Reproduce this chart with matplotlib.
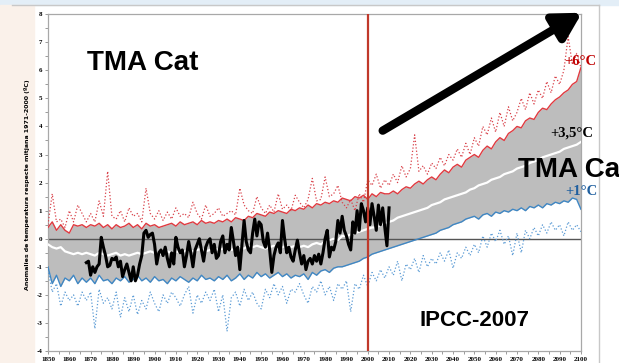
import numpy as np
import matplotlib
matplotlib.use("Agg")
import matplotlib.pyplot as plt
from matplotlib.lines import Line2D
from matplotlib.patches import Rectangle

# Projected temperature anomalies for Catalonia (2-year steps, 1850-2100)
model_years = np.arange(1850, 2101, 2)

upper_extreme = [
    0.5, 1.6, 0.6, 0.7, 0.4, 1.0, 0.6, 1.2, 0.9, 0.6,
    0.9, 0.6, 1.35, 0.8, 2.4, 0.8, 0.7, 1.0, 0.6, 1.1,
    0.8, 0.9, 0.6, 1.8, 0.9, 0.7, 1.0, 0.65, 0.95, 0.7,
    1.1, 0.8, 0.9, 0.75, 1.3, 0.9, 0.7, 1.2, 0.8, 0.9,
    1.1, 0.8, 0.9, 1.0, 0.85, 1.8, 1.2, 1.0, 0.9, 1.5,
    1.1, 0.9, 1.2, 0.95, 1.6, 1.05, 1.2, 1.0, 1.55, 1.3,
    1.1, 1.4, 2.15, 1.35, 1.4, 2.2, 1.5, 1.6, 1.9, 1.3,
    1.1, 1.4, 1.0, 1.6, 1.3, 2.1, 1.9, 2.3, 1.8, 2.1,
    1.9, 2.3, 2.0, 2.6, 2.2, 2.5, 3.7, 2.4, 2.6, 2.3,
    2.7, 2.5, 2.9, 2.6, 3.0, 2.8, 3.2, 2.9, 3.4, 3.0,
    3.6, 3.3, 4.0, 3.7, 4.3, 3.8, 4.5, 4.0, 4.7, 4.2,
    4.5, 5.0, 4.6, 5.2, 4.8, 5.3, 5.0, 5.6, 5.2, 5.8,
    5.5, 6.0, 7.2, 6.2, 6.6, 6.1,
]

upper_band = [
    0.4, 0.6, 0.3, 0.5, 0.3, 0.2, 0.5, 0.45, 0.5, 0.4,
    0.5, 0.45, 0.55, 0.4, 0.5, 0.35, 0.5, 0.4, 0.45, 0.55,
    0.4, 0.5, 0.35, 0.55, 0.45, 0.5, 0.4, 0.45, 0.5, 0.55,
    0.45, 0.6, 0.5, 0.55, 0.6, 0.5, 0.65, 0.55, 0.6, 0.55,
    0.65, 0.6, 0.7, 0.6, 0.75, 0.7, 0.65, 0.8, 0.75, 0.9,
    0.85, 0.8, 0.95, 0.9, 1.0, 0.95, 0.9, 1.05, 1.0, 1.1,
    1.05, 1.2, 1.1, 1.25, 1.2, 1.3, 1.25, 1.35, 1.3, 1.45,
    1.4, 1.35, 1.5, 1.45, 1.55, 1.4, 1.6, 1.5, 1.65, 1.6,
    1.6, 1.7, 1.6, 1.75, 1.85, 1.8, 1.95, 2.05, 1.95, 2.1,
    2.2, 2.1, 2.3, 2.45, 2.35, 2.55, 2.65, 2.55, 2.8, 2.9,
    3.0, 2.9, 3.15, 3.3, 3.2, 3.45, 3.6, 3.5, 3.75, 3.85,
    4.0, 3.95, 4.2, 4.3, 4.25, 4.5, 4.65, 4.6, 4.8, 4.95,
    5.05, 5.2, 5.3, 5.5, 5.6, 6.1,
]

mean_proj = [
    -0.2, -0.3, -0.35, -0.3, -0.45, -0.5, -0.55, -0.5, -0.55, -0.5,
    -0.55, -0.6, -0.5, -0.55, -0.6, -0.55, -0.5, -0.6, -0.55, -0.6,
    -0.55, -0.5, -0.55, -0.5, -0.45, -0.5, -0.55, -0.5, -0.45, -0.5,
    -0.45, -0.5, -0.45, -0.4, -0.45, -0.4, -0.35, -0.45, -0.4, -0.35,
    -0.4, -0.35, -0.3, -0.4, -0.35, -0.3, -0.35, -0.25, -0.3, -0.25,
    -0.3, -0.35, -0.3, -0.25, -0.35, -0.3, -0.25, -0.3, -0.25, -0.3,
    -0.25, -0.3, -0.2, -0.15, -0.2, -0.1, -0.05, 0.0, -0.05, 0.1,
    0.1, 0.15, 0.2, 0.25, 0.3, 0.35, 0.4, 0.4, 0.5, 0.55,
    0.6, 0.65, 0.75, 0.8, 0.85, 0.9, 0.95, 1.0, 1.05, 1.1,
    1.2, 1.25, 1.3, 1.4, 1.45, 1.5, 1.55, 1.6, 1.65, 1.75,
    1.8, 1.9, 1.95, 2.0, 2.1, 2.15, 2.2, 2.3, 2.35, 2.4,
    2.5, 2.55, 2.6, 2.7, 2.75, 2.8, 2.9, 2.95, 3.0, 3.05,
    3.1, 3.2, 3.25, 3.3, 3.35, 3.45,
]

lower_band = [
    -1.0, -1.6, -1.3, -1.7, -1.4, -1.5, -1.3, -1.6, -1.4, -1.55,
    -1.4, -1.6, -1.3, -1.5, -1.45, -1.6, -1.4, -1.5, -1.35, -1.55,
    -1.45, -1.3, -1.5, -1.4, -1.55, -1.35, -1.5, -1.45, -1.6, -1.4,
    -1.5, -1.35, -1.45, -1.55, -1.4, -1.5, -1.3, -1.45, -1.4, -1.5,
    -1.35, -1.45, -1.3, -1.5, -1.4, -1.25, -1.45, -1.3, -1.4, -1.2,
    -1.35, -1.25, -1.4, -1.3, -1.2, -1.35, -1.25, -1.4, -1.3, -1.35,
    -1.25, -1.45, -1.2, -1.3, -1.15, -1.1, -1.2, -1.05, -1.0, -1.0,
    -0.95, -0.9, -0.85, -0.8, -0.7, -0.65, -0.55, -0.5, -0.45, -0.4,
    -0.35, -0.3, -0.25, -0.2, -0.15, -0.1, -0.05, 0.0, 0.05, 0.1,
    0.15, 0.2, 0.3, 0.35, 0.4, 0.5, 0.55, 0.6, 0.7, 0.75,
    0.8, 0.7, 0.85, 0.9, 0.8, 0.95, 0.9, 1.0, 0.95, 1.05,
    1.0, 1.1, 1.0, 1.15, 1.1, 1.2, 1.1, 1.25, 1.2, 1.3,
    1.25, 1.35, 1.3, 1.45, 1.4, 1.05,
]

lower_extreme = [
    -1.1, -1.9, -1.6, -2.4, -1.9, -2.2, -2.0, -2.4, -1.9, -2.2,
    -1.9, -3.2, -1.8, -2.3, -2.1, -2.5, -1.9, -2.8, -2.1, -2.6,
    -2.0, -2.7, -2.2, -2.5, -1.9, -2.3, -2.6, -2.0, -2.3, -1.9,
    -2.1, -2.4, -2.0, -1.7, -2.65, -2.0, -2.3, -1.9, -2.2, -1.8,
    -2.6, -2.0, -3.3, -2.1, -1.9, -2.4, -1.8, -2.2, -1.9, -2.3,
    -2.5, -1.8, -2.1, -1.6, -2.0, -1.7, -2.3, -1.8, -1.9, -1.6,
    -2.0, -2.3, -1.7, -1.9, -1.5, -2.0, -1.7, -2.2, -1.6, -1.8,
    -1.5, -2.6, -1.6, -1.8, -1.3, -1.7, -1.2, -1.5, -1.1, -1.4,
    -1.0, -1.3, -0.8, -1.5, -0.9, -1.1, -0.7, -1.2, -0.6, -1.0,
    -0.7, -0.9, -0.5, -0.8, -0.4, -1.05, -0.5, -0.7, -0.3, -0.6,
    -0.2, -0.5, 0.1, -0.3, 0.2, -0.1, 0.3, -0.2, 0.1, -0.6,
    0.2, -0.5, 0.3, 0.0, 0.4, 0.1, 0.5, 0.2, 0.6, 0.3,
    0.5, 0.1, 0.6, 0.3, 0.5, 0.25,
]

# Observed annual anomalies 1868-2010
obs_years = np.arange(1868, 2011)
observed = [
    -0.85, -0.8,
    -1.3, -1.0, -1.2, -1.0, -0.9, 0.05, -0.3, -0.6, -1.0, -0.95,
    -0.7, -0.75, -0.65, -1.0, -0.8, -1.35, -1.1, -0.9, -1.2, -1.5,
    -1.0, -1.5, -1.3, -0.9, -0.6, 0.2, 0.3, 0.05, 0.15, 0.2,
    -0.2, -0.9, -0.5, -0.4, -0.6, -0.3, -0.7, -1.0, -0.5, -0.9,
    0.05, -0.3, -0.5, -0.4, -1.0, -0.6, -0.1, -0.5, -1.0, -0.4,
    -0.2, 0.0, -0.4, -0.8, -0.3, -0.1, 0.0, -0.5, -0.2, -0.7,
    -0.6, -0.1, 0.1, -0.5, -0.2, -0.4, 0.4, -0.1, -0.6, -0.3,
    -1.1, -0.2, 0.65, -0.1, -0.4, -0.5, 0.2, 0.7, 0.1, 0.6,
    0.5, -0.1, -0.3, 0.2, -0.4, -1.2, -0.6, -0.3, -0.15, -0.5,
    0.65, 0.0, -0.5, -0.3, -0.65, -0.8, -0.4, -0.05, -0.5, -0.9,
    -0.6, -1.1, -0.8, -0.7, -0.9, -0.6, -0.8, -0.55, -0.9, -0.5,
    0.0, 0.3, -0.65, -0.3, -0.4, -0.1, 0.65, 0.2, 0.8, 0.3,
    0.1, -0.2, -0.4, 0.6, 0.2, 1.0, 0.3, 1.25, 1.0, 0.6,
    1.1, 0.5, 1.25, 0.8, 0.3, 1.2, 0.5, 1.1, 0.4, -0.25,
    1.1,
]

x_ticks = list(range(1850, 2101, 10))
y_ticks = list(range(-4, 9))
end_labels = ["+6°C", "+3,5°C", "+1°C"]

fig = plt.figure(figsize=(6.19, 3.63), dpi=100)

# faint frame / background like the slide
fig.add_artist(Rectangle((0, 0.985), 1, 0.015, transform=fig.transFigure,
                         color="#e3eef7", zorder=0))
fig.add_artist(Rectangle((0, 0), 0.055, 0.985, transform=fig.transFigure,
                         color="#faf1ea", zorder=0))
fig.add_artist(Line2D([0.02, 0.968], [0.985, 0.985], transform=fig.transFigure,
                      color="#c8c8c8", lw=1))
fig.add_artist(Line2D([0.968, 0.968], [0, 0.985], transform=fig.transFigure,
                      color="#c8c8c8", lw=1))

ax = fig.add_axes([0.0775, 0.033, 0.861, 0.928])
ax.set_xlim(1850, 2100)
ax.set_ylim(-4, 8)

ax.fill_between(model_years, lower_band, upper_band, color="#bdbdbd", lw=0, zorder=1)
ax.axhline(0, color="#555555", lw=1, zorder=2)
ax.plot(model_years, upper_extreme, color="#d9424a", lw=0.9, ls=":", zorder=3)
ax.plot(model_years, lower_extreme, color="#5b9bd5", lw=0.9, ls=":", zorder=3)
ax.plot(model_years, upper_band, color="#e03a40", lw=1.0, zorder=3)
ax.plot(model_years, lower_band, color="#3f87c4", lw=1.0, zorder=3)
ax.plot(model_years, mean_proj, color="white", lw=1.6, zorder=4)
ax.plot(obs_years, observed, color="black", lw=2.2, zorder=5)
ax.axvline(2000, color="#c0392b", lw=1.6, zorder=6)

ax.annotate("", xy=(2100.5, 8.05), xytext=(2007, 3.85),
            arrowprops=dict(arrowstyle="-|>,head_length=1.6,head_width=0.9",
                            color="black", lw=6, shrinkA=0, shrinkB=0),
            annotation_clip=False, zorder=7)

ax.set_xticks(x_ticks)
ax.set_xticks(range(1855, 2100, 10), minor=True)
ax.set_yticks(y_ticks)
ax.set_yticks(np.arange(-3.5, 8, 1), minor=True)
ax.set_xticklabels([str(t) for t in x_ticks], fontsize=5, fontweight="bold",
                   family="Liberation Serif")
ax.set_yticklabels([str(t) for t in y_ticks], fontsize=5, fontweight="bold",
                   family="Liberation Serif")
ax.tick_params(which="both", length=2.5, width=0.6, color="#8a8a8a", pad=1.5)
for s in ax.spines.values():
    s.set_color("#a8a8a8")
    s.set_linewidth(0.9)

fig.text(27 / 619, 1 - 185 / 363,
         "Anomalies de temperatura respecte mitjana 1971-2000 (ºC)",
         rotation=90, ha="center", va="center", fontsize=4.5, fontweight="bold")

ax.text(2092, 6.3, end_labels[0], color="#c00000", fontsize=10.5, fontweight="bold",
        family="Liberation Serif", va="center", ha="left", zorder=8)
ax.text(2085.5, 3.76, end_labels[1], color="black", fontsize=10.5, fontweight="bold",
        family="Liberation Serif", va="center", ha="left", zorder=8)
ax.text(2092.5, 1.7, end_labels[2], color="#1f5f9f", fontsize=10.5, fontweight="bold",
        family="Liberation Serif", va="center", ha="left", zorder=8)

fig.text(87 / 619, 1 - 63 / 363, "TMA Cat", fontsize=20, fontweight="bold",
         family="Liberation Sans", va="center", ha="left")
# the second title is cut by the slide edge in the original: only "TMA Ca" shows
fig.text(518 / 619, 1 - 170 / 363, "TMA Ca", fontsize=20, fontweight="bold",
         family="Liberation Sans", va="center", ha="left", zorder=10)
fig.text(420 / 619, 1 - 321 / 363, "IPCC-2007", fontsize=16, fontweight="bold",
         family="Liberation Sans", va="center", ha="left")

fig.savefig("out.png", dpi=100)
